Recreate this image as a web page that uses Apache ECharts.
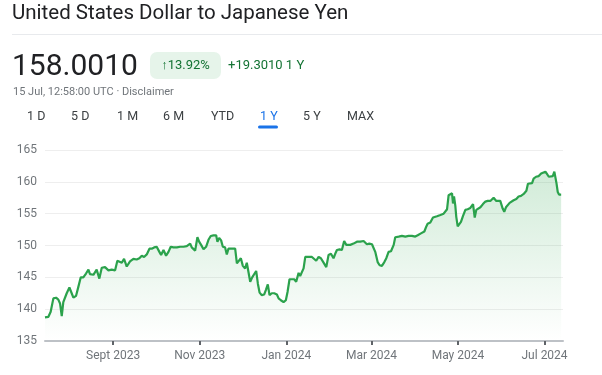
<!DOCTYPE html>
<html>
<head>
<meta charset="utf-8">
<script src="https://cdn.jsdelivr.net/npm/echarts@6/dist/echarts.min.js"></script>
<style>
html,body{margin:0;padding:0;background:#fff;}
#chart{width:602px;height:375px;}
</style>
</head>
<body>
<div id="chart"></div>
<script>
// ---- data ----
const startDate = [2023, 6, 15]; // 15 Jul 2023 (month 0-based)
const dayOffsets = [
0,2.4,4.0,4.7,5.9,7.8,9.4,10.6,11.8,12.9,
14.1,15.3,17.2,18.8,20.0,21.9,23.5,25.2,27.0,28.9,
30.6,31.7,34.1,36.4,38.3,40.0,42.3,44.7,47.0,48.2,
49.4,51.0,52.4,54.1,55.7,57.6,59.9,62.3,64.6,66.5,
68.2,69.8,71.7,73.6,75.2,76.9,78.7,80.6,81.8,83.5,
85.3,87.0,88.6,90.5,92.9,95.2,97.6,99.9,102.3,103.4,
105.8,107.4,108.6,110.0,111.7,113.5,115.2,116.8,118.7,120.6,
121.5,122.7,124.1,125.3,126.9,128.1,129.3,131.6,134.0,135.2,
136.6,138.0,139.4,141.0,142.2,143.4,144.6,146.0,147.4,148.8,
150.0,151.2,152.8,154.4,155.6,157.0,158.2,159.8,161.5,163.4,
164.6,166.2,168.1,169.7,170.9,172.3,174.0,175.6,177.0,178.7,
179.8,
182.2,183.4,185.0,188.1,191.1,192.8,194.4,196.3,198.2,199.8,
201.5,203.3,204.5,205.7,207.6,209.2,210.8,212.3,213.4,215.1,
217.4,219.8,222.1,224.5,226.8,228.5,230.4,232.7,234.4,235.8,
237.4,239.1,240.5,242.1,243.8,245.7,246.8,248.0,249.2,251.5,
253.9,256.2,258.6,260.9,262.6,264.9,267.3,268.7,269.6,271.5,
273.4,274.6,276.2,278.6,280.9,283.3,284.4,285.6,286.8,287.5,
288.2,289.1,289.8,290.8,291.7,293.1,294.5,296.2,297.8,299.7,
301.6,302.8,303.9,305.1,306.8,308.6,310.3,311.9,313.8,316.1,
318.0,318.9,320.8,322.5,323.6,324.8,326.0,327.4,328.6,330.2,
332.1,333.7,335.4,337.3,339.2,340.3,341.5,343.2,344.3,346.0,
347.9,349.6,351.0,352.6,353.8,355.0,356.1,357.8,358.9,360.4,
361.3,362.2,363.7,365
];
const rates = [
138.7,138.8,139.6,139.8,141.7,141.8,141.5,140.9,138.9,141.1,
141.0,142.5,143.4,142.5,141.8,142.1,143.5,145.0,145.0,145.6,
146.2,145.5,145.4,146.2,144.8,146.5,146.6,146.1,146.2,146.4,
146.1,147.6,147.8,147.3,147.9,146.7,147.5,147.9,147.8,148.0,
148.4,148.2,148.6,149.5,149.5,149.7,149.8,149.0,148.5,149.3,
148.4,149.0,149.8,149.7,149.7,149.8,149.8,149.9,150.3,149.7,
149.2,151.3,150.6,150.1,149.4,149.8,150.9,151.5,151.6,151.6,
150.6,151.2,150.8,149.8,149.7,148.6,149.5,149.5,149.5,147.2,
147.2,148.0,146.8,146.4,147.3,147.2,144.3,145.0,145.1,146.0,
144.0,142.6,142.2,142.3,143.0,143.9,142.2,142.5,142.5,142.3,
141.7,141.4,141.1,141.4,142.7,144.7,144.7,144.7,144.3,145.7,
145.2,
146.4,148.2,148.2,148.2,147.6,148.2,148.0,147.3,146.6,148.5,
148.7,148.0,148.7,149.3,149.4,149.3,150.7,150.1,150.2,150.1,
150.3,150.6,150.6,150.7,150.2,150.3,150.2,149.0,147.4,146.9,
146.8,147.4,148.0,149.0,149.1,150.1,151.3,151.6,151.4,151.5,
151.4,151.5,151.5,151.4,151.6,151.9,152.2,153.0,153.4,153.6,
154.4,154.6,154.6,154.8,155.0,155.7,157.9,158.2,158.2,156.6,
157.7,156.3,154.5,153.0,153.0,153.7,154.6,155.6,155.7,155.9,
156.5,154.4,155.6,155.7,156.0,156.5,156.9,157.0,157.0,157.5,
157.0,157.1,157.0,155.8,155.3,156.0,156.2,156.7,156.9,157.1,
157.3,157.7,157.8,158.1,158.6,159.7,159.9,159.8,160.5,160.8,
160.9,161.3,161.6,161.6,161.2,160.8,160.6,160.9,161.6,159.8,
158.4,158.0,158.001
];
const tickDates = [[2023,8,1],[2023,10,1],[2024,0,1],[2024,2,1],[2024,4,1],[2024,6,1]];
const tickLabels = ['Sept 2023','Nov 2023','Jan 2024','Mar 2024','May 2024','Jul 2024'];
const yTicks = [135,140,145,150,155,160,165];
const rangeButtons = ['1 D','5 D','1 M','6 M','YTD','1 Y','5 Y','MAX'];
const titleText = 'United States Dollar to Japanese Yen';
const priceText = '158.0010';
const pctText = '\u219113.92%';
const changeText = '+19.3010 1 Y';
const subText = '15 Jul, 12:58:00 UTC \u00b7 Disclaimer';

// ---- build ----
const DAY = 86400000;
const t0 = Date.UTC(startDate[0], startDate[1], startDate[2]);
const seriesData = dayOffsets.map((d, i) => [t0 + d * DAY, rates[i]]);
const tickTs = tickDates.map(d => Date.UTC(d[0], d[1], d[2]));
const last = seriesData[seriesData.length - 1];

const FONT = 'Roboto, "Noto Sans", sans-serif';
const green = '#2ba24c';
const tabX = [27, 71, 117, 163, 211, 260, 303, 347];
const graphics = [
  {type:'text', x:12, y:14, style:{text:titleText, fontSize:20.5, fontFamily:FONT, fill:'#202124', verticalAlign:'middle'}},
  {type:'rect', shape:{x:12, y:34, width:590, height:1}, style:{fill:'#e8eaed'}},
  {type:'text', x:12, y:67, style:{text:priceText, fontSize:30, fontFamily:FONT, fill:'#202124', verticalAlign:'middle'}},
  {type:'rect', shape:{x:150, y:52, width:71, height:27, r:7}, style:{fill:'#e6f4ea'}},
  {type:'text', x:185.5, y:66, style:{text:pctText, fontSize:13, fontFamily:FONT, fill:'#137333', align:'center', verticalAlign:'middle'}},
  {type:'text', x:228, y:66, style:{text:changeText, fontSize:13, fontFamily:FONT, fill:'#137333', verticalAlign:'middle'}},
  {type:'text', x:13, y:92.5, style:{text:subText, fontSize:11, fontFamily:FONT, fill:'#70757a', verticalAlign:'middle'}}
];
rangeButtons.forEach((b, i) => {
  graphics.push({type:'text', x:tabX[i], y:116.5, style:{text:b, fontSize:12.5, fontFamily:FONT,
    fill: b === '1 Y' ? '#1a73e8' : '#3c4043', verticalAlign:'middle'}});
});
graphics.push({type:'rect', shape:{x:258, y:125.5, width:20, height:3, r:1.5}, style:{fill:'#1a73e8'}});

const chart = echarts.init(document.getElementById('chart'), null, {renderer:'canvas'});
chart.setOption({
  animation:false,
  backgroundColor:'#fff',
  graphic:graphics,
  grid:{left:45, right:39, top:150, bottom:34, containLabel:false, outerBoundsMode:'none'},
  xAxis:{
    type:'value',
    min:t0,
    max:t0 + 365 * DAY,
    axisLine:{show:true, lineStyle:{color:'#bdc1c6', width:2}},
    axisTick:{show:true, customValues:tickTs, length:4, lineStyle:{color:'#5f6368', width:2}},
    axisLabel:{customValues:tickTs, color:'#70757a', fontSize:12, fontFamily:FONT, margin:9,
      formatter:(v) => { const i = tickTs.indexOf(v); return i >= 0 ? tickLabels[i] : ''; }},
    splitLine:{show:false}
  },
  yAxis:{
    type:'value',
    min:yTicks[0], max:yTicks[yTicks.length-1], interval:5,
    axisLine:{show:false}, axisTick:{show:false},
    axisLabel:{color:'#70757a', fontSize:12, fontFamily:FONT, margin:8},
    splitLine:{lineStyle:{color:'#eeeeee', width:1}}
  },
  series:[
    {type:'line', data:seriesData, showSymbol:false, symbol:'none',
      lineStyle:{color:green, width:2.2}, itemStyle:{color:green},
      areaStyle:{color:new echarts.graphic.LinearGradient(0,0,0,1,[
        {offset:0,color:'rgba(52,168,83,0.32)'},{offset:1,color:'rgba(52,168,83,0)'}])},
      z:3},
    {type:'scatter', data:[last], symbolSize:11, itemStyle:{color:green}, z:4}
  ]
});
</script>
</body>
</html>
